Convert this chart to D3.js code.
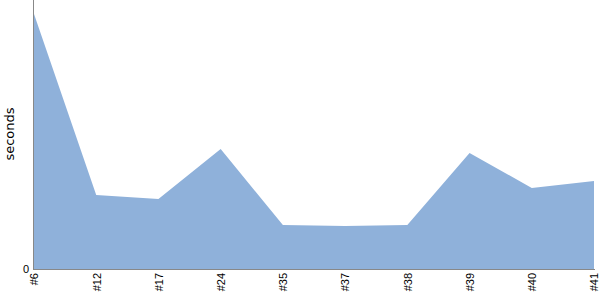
<!DOCTYPE html>
<html><head><meta charset="utf-8">
<script src="https://cdn.jsdelivr.net/npm/d3@7"></script>
<style>body{margin:0;background:#fff}svg{display:block;font-family:"DejaVu Sans",sans-serif}</style>
</head><body><svg id="c" width="600" height="300"></svg>
<script>
const categories = ["#6","#12","#17","#24","#35","#37","#38","#39","#40","#41"];
const seconds = [255, 74, 70, 120, 44, 43, 44, 116, 81, 88];
const yTicks = [0];

const svg = d3.select("#c");
const m = {left:33, right:5, top:0, bottom:31};
const W = 600, H = 300;
const x = d3.scalePoint().domain(categories).range([m.left + 1, W - m.right - 1]);
const y = d3.scaleLinear().domain([0, 269]).range([H - m.bottom, m.top]);

const data = categories.map((c,i)=>({c, v: seconds[i]}));
svg.append("path").datum(data)
  .attr("fill","#8fb1da")
  .attr("d", d3.area().x(d=>x(d.c)).y0(y(0)).y1(d=>y(d.v)));

const xa = svg.append("g").attr("transform",`translate(0,${H-m.bottom})`)
  .call(d3.axisBottom(x).tickSize(0).tickPadding(0));
xa.select(".domain").attr("stroke","#888").attr("d",`M${m.left},0.5H${W-m.right}`);
xa.selectAll("text").attr("font-size",11).attr("fill","#000")
  .attr("text-anchor","end").attr("dy","0.35em")
  .attr("transform","translate(0,4) rotate(-90)").attr("x",0).attr("y",0);

const ya = svg.append("g").attr("transform",`translate(${m.left},0)`)
  .call(d3.axisLeft(y).tickValues(yTicks).tickSize(0).tickPadding(4));
ya.select(".domain").attr("stroke","#888").attr("d",`M0.5,${m.top}V${H-m.bottom}`);
ya.selectAll("text").attr("font-size",11).attr("fill","#000");

svg.append("text").attr("transform",`translate(14,134) rotate(-90)`)
  .attr("text-anchor","middle").attr("font-size",13).text("seconds");
</script></body></html>
